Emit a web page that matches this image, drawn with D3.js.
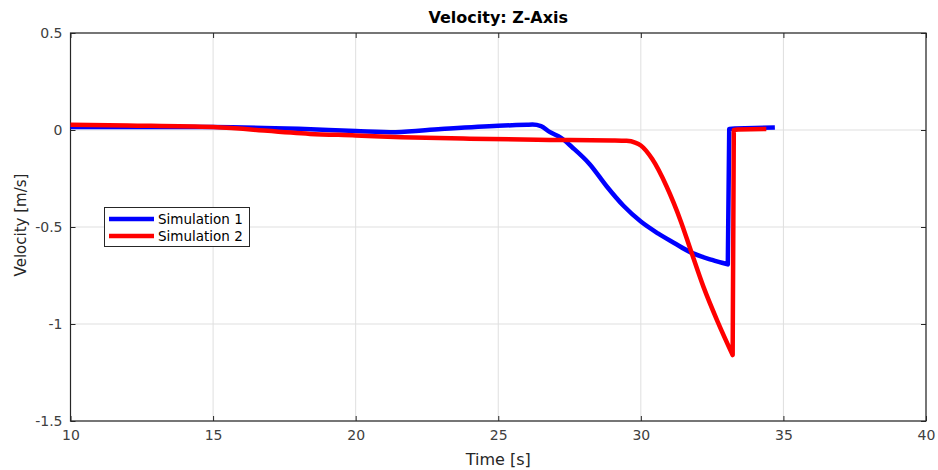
<!DOCTYPE html>
<html><head><meta charset="utf-8">
<script src="https://cdn.jsdelivr.net/npm/d3@7"></script>
<style>
body{margin:0;background:#fff;}
text{font-family:"DejaVu Sans",sans-serif;}
</style></head>
<body><svg id="chart" width="938" height="470"></svg>
<script>
const seriesNames = ["Simulation 1", "Simulation 2"];
const seriesColors = ["#0000ff", "#ff0000"];
const sim1Time = [10, 12, 15, 18, 20, 21.4, 23, 25, 26, 26.2, 26.5, 26.8, 27.2, 27.6, 28.2, 28.8, 29.4, 30, 30.6, 31.2, 31.7, 32.5, 33.05, 33.1, 33.3, 34, 34.7];
const sim1Vel = [0.015, 0.015, 0.015, 0.006, -0.005, -0.011, 0.005, 0.022, 0.027, 0.028, 0.02, -0.01, -0.04, -0.09, -0.175, -0.29, -0.392, -0.472, -0.533, -0.585, -0.627, -0.67, -0.693, 0.005, 0.008, 0.01, 0.013];
const sim2Time = [10, 12, 15, 18.4, 20, 21.6, 24, 26.8, 29.0, 29.5, 29.8, 30.0, 30.4, 30.9, 31.4, 31.75, 32.2, 32.7, 33.22, 33.26, 33.4, 34.4];
const sim2Vel = [0.027, 0.023, 0.015, -0.02, -0.028, -0.037, -0.045, -0.051, -0.054, -0.056, -0.065, -0.08, -0.15, -0.29, -0.47, -0.62, -0.81, -0.99, -1.16, 0.0, 0.003, 0.005];
const xTicks = [10, 15, 20, 25, 30, 35, 40];
const yTicks = [-1.5, -1, -0.5, 0, 0.5];
const titleText = "Velocity: Z-Axis";
const xLabel = "Time [s]";
const yLabel = "Velocity [m/s]";

const L = 70.5, R = 926, T = 33, B = 421;
const svg = d3.select("#chart");
const x = d3.scaleLinear().domain([10, 40]).range([L, R]);
const y = d3.scaleLinear().domain([-1.5, 0.5]).range([B, T]);

// grid
svg.append("g").selectAll("line").data(xTicks).join("line")
  .attr("x1", d => x(d)).attr("x2", d => x(d)).attr("y1", T).attr("y2", B)
  .attr("stroke", "#dfdfdf").attr("stroke-width", 1);
svg.append("g").selectAll("line").data(yTicks).join("line")
  .attr("x1", L).attr("x2", R).attr("y1", d => y(d)).attr("y2", d => y(d))
  .attr("stroke", "#dfdfdf").attr("stroke-width", 1);

// axes
const axStyle = g => {
  g.select(".domain").remove();
  g.selectAll(".tick line").attr("stroke", "#262626");
  g.selectAll(".tick text").attr("fill", "#404040").style("font-size", "14px").style("font-family", "DejaVu Sans");
};
svg.append("g").attr("transform", `translate(0,${B})`)
  .call(d3.axisBottom(x).tickValues(xTicks).tickFormat(d3.format("d")).tickSizeInner(-5).tickSizeOuter(0).tickPadding(9))
  .call(axStyle);
svg.append("g").attr("transform", `translate(0,${T})`)
  .call(d3.axisTop(x).tickValues(xTicks).tickFormat("").tickSizeInner(-5).tickSizeOuter(0))
  .call(axStyle);
svg.append("g").attr("transform", `translate(${L},0)`)
  .call(d3.axisLeft(y).tickValues(yTicks).tickFormat(d => String(d)).tickSizeInner(-5).tickSizeOuter(0).tickPadding(8))
  .call(axStyle);
svg.append("g").attr("transform", `translate(${R},0)`)
  .call(d3.axisRight(y).tickValues(yTicks).tickFormat("").tickSizeInner(-5).tickSizeOuter(0))
  .call(axStyle);

// box
svg.append("rect").attr("x", L).attr("y", T).attr("width", R - L).attr("height", B - T)
  .attr("fill", "none").attr("stroke", "#262626").attr("stroke-width", 1.2);

// lines: smooth section before the jump, straight jump and tail after it
const smooth = d3.line().x(d => x(d[0])).y(d => y(d[1])).curve(d3.curveMonotoneX);
const straight = d3.line().x(d => x(d[0])).y(d => y(d[1]));
function pathFor(times, vals) {
  const pts = times.map((t, i) => [t, vals[i]]);
  let j = 1;
  for (let i = 1; i < pts.length; i++) if (pts[i][1] - pts[i - 1][1] > 0.3) { j = i; break; }
  const pre = pts.slice(0, j);
  const post = pts.slice(j - 1);
  return smooth(pre) + "L" + straight(post).slice(1);
}
[[sim1Time, sim1Vel], [sim2Time, sim2Vel]].forEach((s, i) => {
  svg.append("path").attr("d", pathFor(s[0], s[1])).attr("fill", "none")
    .attr("stroke", seriesColors[i]).attr("stroke-width", 4.5)
    .attr("stroke-linejoin", "round").attr("stroke-linecap", "butt");
});

// title & labels
svg.append("text").attr("x", (L + R) / 2).attr("y", 23).attr("text-anchor", "middle")
  .style("font-size", "16px").style("font-weight", "bold").attr("fill", "#000").text(titleText);
svg.append("text").attr("x", (L + R) / 2).attr("y", 465).attr("text-anchor", "middle")
  .style("font-size", "16px").attr("fill", "#262626").text(xLabel);
svg.append("text").attr("transform", `translate(26,${(T + B) / 2 - 2}) rotate(-90)`).attr("text-anchor", "middle")
  .style("font-size", "15px").attr("fill", "#262626").text(yLabel);

// legend
const lg = svg.append("g");
lg.append("rect").attr("x", 104.5).attr("y", 207.5).attr("width", 145).attr("height", 39)
  .attr("fill", "#fff").attr("stroke", "#262626").attr("stroke-width", 1);
seriesNames.forEach((n, i) => {
  const yy = 219 + i * 17;
  lg.append("line").attr("x1", 109).attr("x2", 154).attr("y1", yy).attr("y2", yy)
    .attr("stroke", seriesColors[i]).attr("stroke-width", 4.5);
  lg.append("text").attr("x", 158).attr("y", yy + 5).style("font-size", "13.5px")
    .attr("fill", "#000").text(n);
});
</script></body></html>
